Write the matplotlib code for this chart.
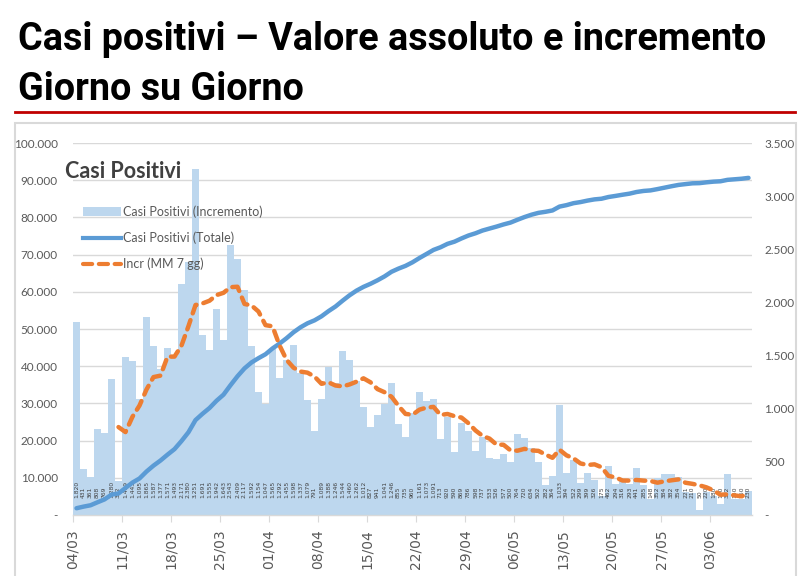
import numpy as np
import pandas as pd
import matplotlib
matplotlib.use("Agg")
import matplotlib.pyplot as plt
from matplotlib.lines import Line2D
from matplotlib.patches import Patch, Rectangle
from matplotlib.ticker import FuncFormatter, FixedLocator

# --------------------------
# Dati
# --------------------------

# incremento giornaliero casi positivi, dal 04/03 al 08/06
incremento = [
    1820, 431, 361, 808, 769, 1280, 322, 1489, 1445, 1095, 1865, 1587, 1377, 1571,
    1493, 2171, 2380, 3251, 1691, 1555, 1942, 1643, 2543, 2409, 2117, 1592, 1154, 1047,
    1565, 1292, 1455, 1598, 1337, 1079, 791, 1089, 1388, 1246, 1544, 1460, 1262, 1012,
    827, 941, 1041, 1246, 855, 735, 960, 1161, 1073, 1091, 713, 920, 590, 869, 786, 598,
    737, 533, 526, 577, 500, 764, 720, 634, 502, 282, 364, 1033, 394, 522, 299, 399,
    326, 175, 462, 294, 316, 293, 441, 285, 148, 352, 384, 382, 354, 221, 210,
    50, 220, 180, 100, 382, 150, 150, 230,
]

# casi positivi totali (asse sinistro)
totale = [
    1820, 2251, 2612, 3420, 4189, 5469, 5791, 7280, 8725, 9820, 11685, 13272, 14649, 16220,
    17713, 19884, 22264, 25515, 27206, 28761, 30703, 32346, 34889, 37298, 39415, 41007, 42161, 43208,
    44773, 46065, 47520, 49118, 50455, 51534, 52325, 53414, 54802, 56048, 57592, 59052, 60314, 61326,
    62153, 63094, 64135, 65381, 66236, 66971, 67931, 69092, 70165, 71256, 71969, 72889, 73479, 74348,
    75134, 75732,
    76469, 77002, 77528, 78105, 78605, 79369, 80089, 80723, 81225, 81507, 81871, 82904, 83298, 83820,
    84119, 84518, 84844, 85019, 85481, 85775, 86091, 86384, 86825, 87110, 87258, 87610, 87994, 88376,
    88730, 88951, 89161,
    89211, 89431, 89611, 89711, 90093, 90243, 90393, 90623,
]

# media mobile 7 giorni (asse destro), parte dal 10/03
media_mobile = [
    827.3, 780.0, 924.9, 1029.7, 1180.7, 1297.6, 1311.4, 1489.9, 1490.4, 1594.1, 1777.7, 1975.7,
    1990.6, 2016.0, 2069.0, 2090.4, 2143.6, 2147.7, 1985.7, 1971.6, 1914.3, 1786.4, 1775.3, 1596.6,
    1460.3, 1386.1, 1349.7, 1339.0, 1302.4, 1234.4, 1248.1, 1218.3, 1210.6, 1228.1, 1254.3, 1285.9,
    1248.4, 1184.6, 1155.3, 1112.7, 1026.3, 951.0, 943.6, 991.3, 1010.1, 1017.3, 941.1, 950.4,
    929.7, 916.7, 863.1, 795.3, 744.7, 719.0, 662.7, 660.9, 608.1, 605.0, 622.4, 607.7, 603.3,
    568.4, 538.0, 614.1, 561.3, 533.0, 485.1, 470.4, 476.7, 449.7, 368.1, 353.9, 324.4, 323.6,
    329.6, 323.7, 319.9, 304.1, 317.0, 326.4, 335.1, 303.7, 293.0, 279.0, 260.1, 231.0, 190.7,
    194.7, 184.6, 176.0, 201.7,
]

etichette_date = ["04/03", "11/03", "18/03", "25/03", "01/04", "08/04", "15/04",
                  "22/04", "29/04", "06/05", "13/05", "20/05", "27/05", "03/06"]

date = pd.date_range("2020-03-04", periods=len(incremento), freq="D")

# --------------------------
# Stile
# --------------------------
FONT_TITLE = ["Roboto", "DejaVu Sans"]
FONT_CHART = ["Lato", "DejaVu Sans"]
COL_BAR = "#BDD7EE"
COL_TOT = "#5B9BD5"
COL_MM = "#ED7D31"
COL_TXT = "#595959"


def fmt_it(v, pos=None):
    if abs(v) < 1e-9:
        return "-"
    return f"{v:,.0f}".replace(",", ".")


fig = plt.figure(figsize=(8, 5.76), dpi=100)

# titolo della slide
fig.text(18 / 800, 1 - 50 / 576, "Casi positivi \u2013 Valore assoluto e incremento",
         family=FONT_TITLE, fontweight="bold", fontsize=27.2, color="black", va="baseline")
fig.text(18 / 800, 1 - 100 / 576, "Giorno su Giorno",
         family=FONT_TITLE, fontweight="bold", fontsize=27.2, color="black", va="baseline")
fig.add_artist(Line2D([15 / 800, 795 / 800], [1 - 112 / 576] * 2,
                      color="#C00000", lw=2, transform=fig.transFigure))
fig.add_artist(Rectangle((15 / 800, -0.01), 781 / 800, (576 - 123) / 576 + 0.01,
                         fill=False, edgecolor="#D9D9D9", lw=1.5, transform=fig.transFigure))

# assi: griglia/asse sinistro, barre (dx), totale (sx), media mobile (dx)
x = np.arange(len(incremento)) + 0.5
ax = fig.add_axes([73 / 800, 1 - 515 / 576, 679 / 800, 372 / 576])
axb = ax.twinx()
axt = ax.twinx()
axm = ax.twinx()

ax.set_xlim(0, len(incremento))
ax.set_ylim(0, 100000)
ax.yaxis.set_major_locator(FixedLocator(np.arange(0, 100001, 10000)))
ax.yaxis.set_major_formatter(FuncFormatter(fmt_it))
ax.grid(axis="y", color="#D9D9D9", lw=1)
ax.set_axisbelow(True)

axb.bar(x, incremento, width=0.86, color=COL_BAR, zorder=2)
axb.set_ylim(0, 3500)
axb.yaxis.set_major_locator(FixedLocator(np.arange(0, 3501, 500)))
axb.yaxis.set_major_formatter(FuncFormatter(fmt_it))

for xi, v in zip(x, incremento):
    axb.text(xi, 0.045, fmt_it(v), transform=axb.get_xaxis_transform(),
             rotation=90, ha="center", va="bottom", fontsize=4.3, color="#404040")

axt.plot(x, totale, color=COL_TOT, lw=3.2, solid_capstyle="round")
axt.set_ylim(0, 100000)
axt.set_yticks([])

axm.plot(x[6:], media_mobile, color=COL_MM, lw=3.2, ls=(0, (2.2, 1.6)),
         dash_capstyle="round")
axm.set_ylim(0, 3500)
axm.set_yticks([])

for a in (ax, axb, axt, axm):
    for s in ("top", "left", "right"):
        a.spines[s].set_visible(False)
    a.spines["bottom"].set_color("#D9D9D9")

ax.set_xticks(np.arange(0, len(incremento), 7))
ax.set_xticklabels(etichette_date, rotation=90, fontsize=10, color=COL_TXT)
ax.tick_params(axis="x", length=5, color="#D9D9D9", pad=5)
ax.tick_params(axis="y", length=0, pad=11, labelsize=8.5, labelcolor=COL_TXT)
axb.tick_params(axis="y", length=0, pad=9, labelsize=8.5, labelcolor=COL_TXT)
for lab in ax.get_yticklabels() + axb.get_yticklabels():
    lab.set_family(FONT_CHART)

# titolo del grafico e legenda
fig.text(65 / 800, 1 - 172 / 576, "Casi Positivi", family=FONT_CHART,
         fontweight="bold", fontsize=15.5, color="#404040", va="center")

handles = [
    Patch(facecolor=COL_BAR, edgecolor="none"),
    Line2D([], [], color=COL_TOT, lw=3),
    Line2D([], [], color=COL_MM, lw=3, ls=(0, (2.2, 1.6)), dash_capstyle="round"),
]
labels = ["Casi Positivi (Incremento)", "Casi Positivi (Totale)", "Incr (MM 7 gg)"]
leg = fig.legend(handles, labels, loc="upper left", bbox_to_anchor=(72 / 800, 1 - 194 / 576),
                 frameon=False, handlelength=3.0, handleheight=0.8, handletextpad=0.2,
                 labelspacing=1.1, prop={"family": FONT_CHART, "size": 9})
for t in leg.get_texts():
    t.set_color(COL_TXT)

fig.savefig("out.png", dpi=100)
